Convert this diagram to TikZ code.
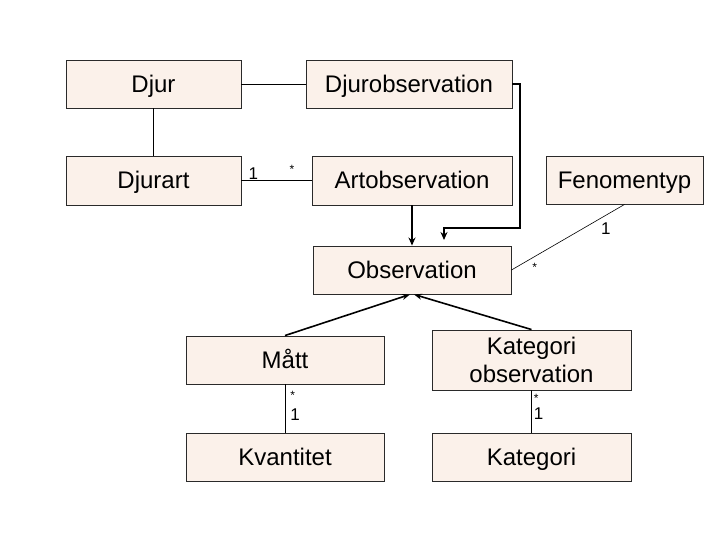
\documentclass[tikz,border=0pt]{standalone}
\usepackage{fontspec}
\setmainfont{Liberation Sans}
\usetikzlibrary{arrows.meta}
\definecolor{boxfill}{HTML}{FBF1EA}
\definecolor{boxline}{HTML}{2A2A2A}

\begin{document}
\begin{tikzpicture}[
    x=1pt, y=-1pt,
    classbox/.style={draw=boxline, fill=boxfill, line width=0.9pt, inner sep=0pt,
        align=center, font=\fontsize{24}{28}\selectfont},
    onebox/.style={classbox, text height=17pt, text depth=0pt},
    assoc/.style={line width=0.9pt},
    thinassoc/.style={line width=0.6pt},
    genline/.style={line width=2pt, -{Stealth[length=8pt,width=7pt]}},
    specline/.style={line width=1.6pt, -{Stealth[length=8pt,width=6pt]}},
    mult/.style={font=\fontsize{17}{17}\selectfont, inner sep=1pt},
    star/.style={font=\fontsize{12}{12}\selectfont, inner sep=1pt}
]
    \useasboundingbox (0,0) rectangle (720,540);

    % Classes
    \node[onebox, minimum width=175pt, minimum height=48pt] (djur) at (153.5,84) {Djur};
    \node[onebox, minimum width=206pt, minimum height=48pt] (djurobs) at (409,84) {Djurobservation};
    \node[onebox, minimum width=175pt, minimum height=49pt] (djurart) at (153.5,180.5) {Djurart};
    \node[onebox, minimum width=200pt, minimum height=49pt] (artobs) at (412,180.5) {Artobservation};
    \node[onebox, minimum width=157pt, minimum height=48pt] (fenomen) at (624.5,180) {Fenomentyp};
    \node[onebox, minimum width=198pt, minimum height=48pt] (obs) at (412,270) {Observation};
    \node[onebox, minimum width=198pt, minimum height=48pt] (matt) at (285,360) {Mått};
    \node[classbox, minimum width=199pt, minimum height=60pt] (katobs) at (531.5,360) {Kategori\\observation};
    \node[onebox, minimum width=198pt, minimum height=48pt] (kvant) at (285,457) {Kvantitet};
    \node[onebox, minimum width=199pt, minimum height=48pt] (kategori) at (531.5,457) {Kategori};

    % Associations
    \draw[assoc] (djur) -- (djurobs);
    \draw[assoc] (djur) -- (djurart);
    \draw[assoc] (djurart) -- node[mult, pos=0.17, anchor=south] {1}
        node[star, pos=0.72, anchor=south, yshift=6pt] {*} (artobs);
    \draw[thinassoc] (fenomen.south) -- node[mult, pos=0.2, anchor=north west, xshift=-2pt, yshift=-4pt] {1}
        node[star, pos=0.88, anchor=north west, xshift=6pt] {*} (obs.east);
    \draw[assoc] (matt) -- node[star, pos=0.22, anchor=west, xshift=4pt] {*}
        node[mult, pos=0.62, anchor=west, xshift=4pt] {1} (kvant);
    \draw[assoc] (katobs) -- node[star, pos=0.2, anchor=west, xshift=1pt] {*}
        node[mult, pos=0.55, anchor=west, xshift=1pt] {1} (kategori);

    % Generalisations
    \coordinate (bend) at (444,228);
    \draw[genline] (djurobs.east) -- ++(8,0) |- (bend) -- ++(0,12);
    \draw[genline] (artobs) -- (obs);
    \draw[specline] (matt.north) -- ([xshift=-2pt]obs.south);
    \draw[specline] (katobs.north) -- ([xshift=2pt]obs.south);

\end{tikzpicture}
\end{document}
